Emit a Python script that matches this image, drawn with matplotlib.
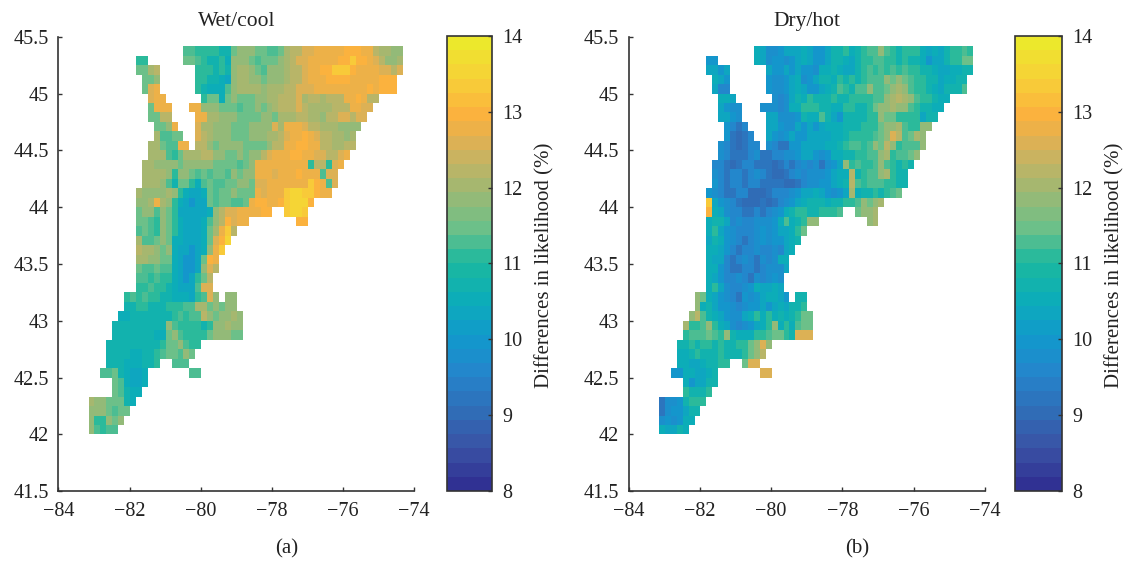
#!/usr/bin/env python3
"""
Likelihood difference maps, wet/cool and dry/hot
"""

import numpy as np
import matplotlib
matplotlib.use('Agg')
import matplotlib.pyplot as plt
from matplotlib.colors import LinearSegmentedColormap

plt.rcParams['font.family'] = ['Liberation Serif', 'DejaVu Serif']

# value for each letter
codes = 'abcdefghijklmnopqrstu'
levels = [8.75, 9.0, 9.25, 9.5, 9.75, 10.0, 10.25, 10.5, 10.75, 11.0, 11.25,
          11.5, 11.75, 12.0, 12.25, 12.5, 12.75, 13.0, 13.25, 13.5, 13.75]

lon_west = -83.15
lon_step = 1 / 6
lat_north = 45.4167
lat_step = 1 / 12
n_rows = 41
n_cols = 54

# (row from the north, first column, one letter per cell)
wet_cells = [
    (0, 16, 'kkjjjjii' 'lmmmllkkl' 'nooppqqqq' 'qrrrqq' 'onnmm'),
    (1, 8, 'jj'), (1, 16, 'llkjiijh' 'mmmlklllm' 'noppqqqqq' 'rrsrrq' 'pommn'),
    (2, 8, 'llno'), (2, 18, 'jjjiji' 'mnnmlkmmm' 'noopqqrrs' 'ssrqqq' 'qppop'),
    (3, 9, 'llm'), (3, 18, 'jjiihg' 'mnnmmlmmm' 'noopqqqrr' 'rrqqqq' 'qrrr'),
    (4, 9, 'lpq'), (4, 18, 'jihhhk' 'mnnnnmnnn' 'oopppqqqq' 'qqqqqr' 'qrrr'),
    (5, 10, 'pqq'), (5, 19, 'jllhlm' 'lllmmnno' 'oopnoonoo' 'oqqrqoo'),
    (6, 10, 'lqqq'), (6, 17, 'qq' 'mmmlll' 'kllmlmno' 'ooponnnno' 'ooqqpp'),
    (7, 10, 'lloo'), (7, 18, 'qq' 'nnmmm' 'llllmmln' 'nnoonnmoo' 'ppopp'),
    (8, 11, 'llmq'), (8, 18, 'pnnmmml' 'llmmmmpn' 'qqqpoonnn' 'mmmm'),
    (9, 11, 'nkkll'), (9, 18, 'ponmmml' 'llmmmnno' 'pqqrqpoon' 'nmn'),
    (10, 10, 'nnlkkqq'), (10, 18, 'oomlmmm' 'mllllmoo' 'qqrrqqoon' 'noo'),
    (11, 10, 'nnnkjl' 'nnnoo' 'mmllml' 'mmopqq' 'qrrqqppoo' 'pq'),
    (12, 9, 'nnmmm' 'mlmmm' 'mmllllkl' 'mqqqqq' 'qqqqjoojp' 'q'),
    (13, 9, 'nnnn' 'mj' 'mmlk' 'lkllkmlmm' 'qqqpqq' 'qrqqqkpp'),
    (14, 9, 'nnnm' 'ki' 'lljh' 'klkkllmml' 'ppqqqq' 'qqqsrqkp'),
    (15, 8, 'nmmm' 'mnm' 'jhggh' 'lkllmlll' 'qpqqqs' 'ttss' 'rqq'),
    (16, 8, 'mmn' 'q' 'n' 'm' 'jhgfgg' 'lkllkkl' 'qrrqqr' 'stttr'),
    (17, 8, 'lmmk' 'ml' 'jgggggh' 'mo' 'ppqqqqrr'), (17, 33, 'stts'),
    (18, 8, 'llkj' 'ml' 'jhgggh' 'kmo' 'r' 'p' 'qq'), (18, 35, 'rr'),
    (19, 8, 'klkj' 'ml' 'jhgggh' 'lnq' 's' 'o'),
    (20, 8, 'nkkl' 'ml' 'hhgggh' 'lpr' 't'),
    (21, 8, 'onnm' 'lm' 'hggfgh' 'mqs'),
    (22, 8, 'nnmm' 'll' 'hgffg' 'l' 'rq'),
    (23, 8, 'lkkl' 'kk' 'hgffg' 'm' 'po'),
    (24, 8, 'kkjkjjhgfgjlo'),
    (25, 8, 'jjkjjihgggkpp'),
    (26, 6, 'jk' 'jkjj' 'ii' 'hhhg' 'jk' 'pm'), (26, 23, 'mm'),
    (27, 6, 'iijjii' 'ijjj' 'kk' 'nn' 'lmlmm'),
    (28, 5, 'hh' 'iiiiii' 'ijkj' 'kkomlmmnm'),
    (29, 4, 'iiii' 'iiiii' 'mkj' 'jjji' 'jmmnmm'),
    (30, 4, 'iiii' 'iiihh' 'lmk' 'jjjj' 'lmmmll'),
    (31, 3, 'iiii' 'iiiii' 'jllm' 'kjj'),
    (32, 3, 'iii' 'ihhii' 'jkllkm' 'l'),
    (33, 3, 'iiihhhiij'), (33, 14, 'kkk'),
    (34, 2, 'kklihggh'), (34, 17, 'kk'),
    (35, 4, 'lkhggh'),
    (36, 4, 'lkihh'),
    (37, 0, 'nmmlllih'),
    (38, 0, 'mmmlkll'),
    (39, 0, 'mjjmlm'),
    (40, 0, 'mkjkk'),
]

dry_cells = [
    (0, 16, 'hgeefggg' 'hgffgiijh' 'ijkkmkjij' 'jjhghg' 'ijjkj'),
    (1, 8, 'ff'), (1, 16, 'hgeffefg' 'hgffgiihg' 'ijjkkjjij' 'iihfgg' 'ijjll'),
    (2, 8, 'ggfg'), (2, 18, 'gffgfg' 'ffehhihgg' 'ijkjkjkjk' 'jjiihg' 'ghhii'),
    (3, 9, 'hgf'), (3, 18, 'feefgh' 'efgiihjij' 'ijkkkmlml' 'kjjiig' 'hhii'),
    (4, 9, 'gdd'), (4, 18, 'feefgh' 'gffghikji' 'kkmkklmnm' 'kjjihg' 'iiik'),
    (5, 10, 'hhg'), (5, 19, 'edegih' 'jiiijiij' 'jjjkkmnon' 'mkjjihh'),
    (6, 10, 'gfee'), (6, 17, 'ee' 'edehhj' 'jjiihhjj' 'iijlmmnmm' 'kjiihh'),
    (7, 10, 'ggfe'), (7, 18, 'gg' 'eeefi' 'hhkigfii' 'iijjmlljj' 'jjgii'),
    (8, 11, 'fdcd'), (8, 18, 'ggfeegf' 'gfghhhii' 'ijjjlmmnk' 'jjmm'),
    (9, 11, 'fcbcd'), (9, 18, 'gfefgff' 'gggghhij' 'jjjklmpok' 'lnm'),
    (10, 10, 'edcbcdd'), (10, 18, 'edccffg' 'ggghhijk' 'kjkmlomjk' 'kkm'),
    (11, 10, 'edcccd' 'eccdd' 'eefggf' 'efhhii' 'jjkkmnjkk' 'lm'),
    (12, 9, 'ddcbc' 'ddccc' 'bcdcdede' 'cefgmj' 'kjjkmkjij' 'i'),
    (13, 9, 'edcd' 'dc' 'dedc' 'bbcdedeee' 'fghhoi' 'jkkmnjii'),
    (14, 9, 'fdcd' 'dc' 'ddcc' 'ccbbcdeef' 'fghiok' 'jkkkjjii'),
    (15, 8, 'fedc' 'cdd' 'bbbcd' 'ddefgghg' 'fefgnh' 'iiji' 'jkl'),
    (16, 8, 's' 'gfe' 'dc' 'bbbcbc' 'defghii' 'ihiijj' 'kmlmn'),
    (17, 8, 'r' 'hge' 'dd' 'ccdcde' 'fhi' 'jjiijjjk'), (17, 33, 'lmmn'),
    (18, 8, 'hiig' 'de' 'ddeeef' 'hkh' 'i' 'j' 'mm'), (18, 35, 'mn'),
    (19, 8, 'hjgf' 'ed' 'ddefef' 'ggh' 'j' 'l'),
    (20, 8, 'gihf' 'ed' 'cdefef' 'fgh' 'i'),
    (21, 8, 'hhgf' 'dc' 'ddedde' 'dgh'),
    (22, 8, 'hggd' 'cd' 'edced' 'e' 'hh'),
    (23, 8, 'hhfd' 'cc' 'ddcde' 'e' 'eg'),
    (24, 8, 'hgfd' 'de' 'dced' 'ef' 'e'),
    (25, 8, 'hjge' 'dd' 'efhg' 'gh' 'g'),
    (26, 6, 'ml' 'hgfe' 'dc' 'fefg' 'hh' 'gf'), (26, 23, 'ii'),
    (27, 6, 'mh' 'igff' 'ed' 'effgfghgiij'),
    (28, 5, 'mo' 'kihg' 'fee' 'ghj' 'hjhihijll'),
    (29, 4, 'njjk' 'mjhg' 'ede' 'fghj' 'mhjhkll'),
    (30, 4, 'jkkk' 'lkjm' 'ihh' 'hjjk' 'lljippp'),
    (31, 3, 'iiji' 'jjij' 'iijj' 'lmpm'),
    (32, 3, 'hhij' 'iiij' 'iiij' 'lmo'),
    (33, 3, 'hhgghiijj'), (33, 14, 'lpp'),
    (34, 2, 'ffhhgghi'), (34, 17, 'pp'),
    (35, 4, 'hfggii'),
    (36, 4, 'jiiij'),
    (37, 0, 'ceefijjj'),
    (38, 0, 'ceffgii'),
    (39, 0, 'efefhh'),
    (40, 0, 'hggih'),
]

panel_titles = ['Wet/cool', 'Dry/hot']
panel_tags = ['(a)', '(b)']
x_ticks = [-84, -82, -80, -78, -76, -74]
x_labels = ['\u221284', '\u221282', '\u221280', '\u221278', '\u221276', '\u221274']
y_ticks = [41.5, 42, 42.5, 43, 43.5, 44, 44.5, 45, 45.5]
y_labels = ['41.5', '42', '42.5', '43', '43.5', '44', '44.5', '45', '45.5']
bar_ticks = [8, 9, 10, 11, 12, 13, 14]
bar_label = 'Differences in likelihood (%)'

# parula style colours as they look on the colour bar
bar_colors = ['#303193', '#3a52a5', '#2f6eb7', '#2585cc', '#1199cc', '#0cadb9',
              '#1bb89f', '#6fc088', '#a0b872', '#cfb25e', '#fbb03e', '#f8cf38',
              '#ece82c']
cmap = LinearSegmentedColormap.from_list('bar', bar_colors, N=32)


def to_grid(cells):
    """Turn the row pieces into a masked grid"""
    lookup = dict(zip(codes, levels))
    grid = np.full((n_rows, n_cols), np.nan)
    for row, start, text in cells:
        for i, ch in enumerate(text):
            grid[row, start + i] = lookup[ch]
    return np.ma.masked_invalid(grid)


lon_edges = lon_west + lon_step * np.arange(n_cols + 1)
lat_edges = lat_north - lat_step * np.arange(n_rows + 1)

W, H = 1127, 563
fig = plt.figure(figsize=(W / 100, H / 100), dpi=100)
ink = '#333333'
text_color = '#222222'

axes_left = [58.3, 628.7]
bar_left = [447.3, 1015]
bar_width = [45, 47]

for k, cells in enumerate([wet_cells, dry_cells]):
    x0 = axes_left[k]
    ax = fig.add_axes([x0 / W, 1 - 491.3 / H, 356 / W, 454.6 / H])
    mesh = ax.pcolormesh(lon_edges, lat_edges, to_grid(cells), cmap=cmap,
                         vmin=8, vmax=14, edgecolors='none')
    ax.set_xlim(-84, -74)
    ax.set_ylim(41.5, 45.5)
    ax.set_xticks(x_ticks, x_labels)
    ax.set_yticks(y_ticks, y_labels)
    ax.tick_params(direction='in', length=3, width=1, labelsize=14.5, color=ink,
                   labelcolor=text_color)
    ax.tick_params(axis='x', pad=8)
    ax.tick_params(axis='y', pad=7)
    ax.spines['top'].set_visible(False)
    ax.spines['right'].set_visible(False)
    ax.spines['left'].set_color(ink)
    ax.spines['bottom'].set_color(ink)
    ax.spines['left'].set_linewidth(1.2)
    ax.spines['bottom'].set_linewidth(1.2)
    ax.set_title(panel_titles[k], fontsize=15.5, color=text_color, pad=8)

    cax = fig.add_axes([bar_left[k] / W, 1 - 491 / H, bar_width[k] / W, 455 / H])
    bar = fig.colorbar(mesh, cax=cax)
    bar.set_ticks(bar_ticks)
    bar.ax.tick_params(direction='in', length=3, width=1, labelsize=14.5,
                       color=ink, labelcolor=text_color, pad=7.5)
    bar.outline.set_edgecolor(ink)
    bar.outline.set_linewidth(1.2)
    fig.text((x0 + 486) / W, 1 - 265 / H, bar_label, rotation=90, fontsize=15,
             color=text_color, ha='center', va='center')
    fig.text((x0 + 228) / W, 1 - 549 / H, panel_tags[k], fontsize=15,
             color=text_color, ha='center', va='center')

fig.savefig('out.png', dpi=100)
